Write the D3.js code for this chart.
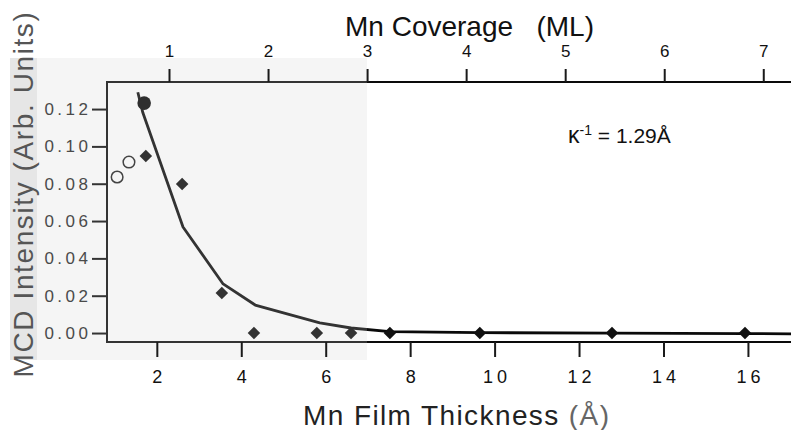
<!DOCTYPE html>
<html lang="en">
<head>
<meta charset="utf-8">
<title>MCD intensity vs Mn thickness</title>
<script src="https://d3js.org/d3.v7.min.js"></script>
<style>
  body { margin: 0; background: #fff; }
  text { font-family: "Liberation Sans", Arial, sans-serif; }
</style>
</head>
<body>
<script>
// data
var diamondT = [1.74, 2.60, 3.54, 4.30, 5.79, 6.60, 7.52, 9.65, 12.78, 15.93]
var diamondV = [0.0949, 0.0799, 0.0215, 0.0, 0.0, 0.0, 0.0, 0.0, 0.0, 0.0]
var filledT = [1.70]
var filledV = [0.1232]
var openT = [1.06, 1.34]
var openV = [0.0836, 0.0916]
var fitT = [1.55, 1.67, 2.62, 3.57, 4.33, 5.86, 6.60, 7.52, 9.65, 12.78, 15.93, 17.02]
var fitV = [0.129, 0.118, 0.0568, 0.0263, 0.0150, 0.0054, 0.0027, 0.0008, 0.0002, 0.0, -0.0003, -0.0004]
var xTicks = [2, 4, 6, 8, 10, 12, 14, 16]
var topTicks = [1, 2, 3, 4, 5, 6, 7]
var yTicks = [0, 0.02, 0.04, 0.06, 0.08, 0.10, 0.12]

var w = 791, h = 430
var pLeft = 107, pRight = 791, pTop = 82, pBottom = 342

var svg = d3.select("body").append("svg")
  .attr("width", w).attr("height", h)

var x = d3.scaleLinear().domain([0.82, 17.02]).range([pLeft, pRight])
var xTop = d3.scaleLinear().domain([0.374, 7.28]).range([pLeft, pRight])
var y = d3.scaleLinear().domain([-0.0048, 0.1345]).range([pBottom, pTop])

// the scan is greyer on the left, darker ink on the right
var grad = svg.append("defs").append("linearGradient")
  .attr("id", "ink").attr("gradientUnits", "userSpaceOnUse")
  .attr("x1", 0).attr("x2", w).attr("y1", 0).attr("y2", 0)
grad.append("stop").attr("offset", 367 / w).attr("stop-color", "#333")
grad.append("stop").attr("offset", 367 / w).attr("stop-color", "#0a0a0a")

svg.append("rect").attr("x", 10).attr("y", 58).attr("width", 357).attr("height", 302)
  .attr("fill", "#f5f5f5")
svg.append("rect").attr("x", 10).attr("y", 58).attr("width", 27).attr("height", 302)
  .attr("fill", "#e6e6e6")

// frame lines
svg.append("line").attr("x1", pLeft).attr("x2", pLeft).attr("y1", pTop).attr("y2", pBottom)
  .attr("stroke", "#333").attr("stroke-width", 2)
svg.append("line").attr("x1", pLeft - 1).attr("x2", pRight).attr("y1", pTop).attr("y2", pTop)
  .attr("stroke", "url(#ink)").attr("stroke-width", 2)
svg.append("line").attr("x1", pLeft - 1).attr("x2", pRight).attr("y1", pBottom).attr("y2", pBottom)
  .attr("stroke", "url(#ink)").attr("stroke-width", 2.2)

// bottom axis
var gx = svg.append("g").attr("transform", "translate(0," + pBottom + ")")
  .call(d3.axisBottom(x).tickValues(xTicks).tickSize(15).tickPadding(13).tickFormat(d3.format("d")))
gx.select(".domain").remove()
gx.selectAll("line").attr("stroke", "#1a1a1a").attr("stroke-width", 2)
gx.selectAll("text").attr("font-size", 18).attr("fill", "#111")
  .attr("letter-spacing", 4).attr("dx", 2)
  .style("font-family", "'Liberation Sans', Arial, sans-serif")

// top axis
var gt = svg.append("g").attr("transform", "translate(0," + pTop + ")")
  .call(d3.axisTop(xTop).tickValues(topTicks).tickSize(13).tickPadding(12).tickFormat(d3.format("d")))
gt.select(".domain").remove()
gt.selectAll("line").attr("stroke", "#1a1a1a").attr("stroke-width", 2)
gt.selectAll("text").attr("font-size", 17).attr("fill", "#111")
  .style("font-family", "'Liberation Sans', Arial, sans-serif")

// left axis
var gy = svg.append("g").attr("transform", "translate(" + pLeft + ",0)")
  .call(d3.axisLeft(y).tickValues(yTicks).tickSize(15).tickPadding(4).tickFormat(d3.format(".2f")))
gy.select(".domain").remove()
gy.selectAll("line").attr("stroke", "#333").attr("stroke-width", 2)
gy.selectAll("text").attr("font-size", 17).attr("fill", "#4a4a4a")
  .attr("letter-spacing", 3.5).attr("dx", 3.5)
  .style("font-family", "'Liberation Sans', Arial, sans-serif")

// fit curve
var fitData = d3.zip(fitT, fitV)
svg.append("path").datum(fitData)
  .attr("d", d3.line().x(function(d){ return x(d[0]) }).y(function(d){ return y(d[1]) }))
  .attr("fill", "none").attr("stroke", "url(#ink)").attr("stroke-width", 2.8)
  .attr("stroke-linejoin", "round")

// filled diamonds
svg.selectAll("path.dia")
  .data(d3.zip(diamondT, diamondV))
  .enter().append("path").attr("class", "dia")
  .attr("d", d3.symbol().type(d3.symbolDiamond2).size(100))
  .attr("transform", function(d){ return "translate(" + x(d[0]) + "," + y(d[1]) + ")" })
  .attr("fill", function(d){ return x(d[0]) > 367 ? "#111" : "#333" })

// filled circle
svg.selectAll("circle.filled")
  .data(d3.zip(filledT, filledV))
  .enter().append("circle").attr("class", "filled")
  .attr("cx", function(d){ return x(d[0]) }).attr("cy", function(d){ return y(d[1]) })
  .attr("r", 6.8).attr("fill", "#2e2e2e")

// open circles
svg.selectAll("circle.open")
  .data(d3.zip(openT, openV))
  .enter().append("circle").attr("class", "open")
  .attr("cx", function(d){ return x(d[0]) }).attr("cy", function(d){ return y(d[1]) })
  .attr("r", 5.8).attr("fill", "none").attr("stroke", "#444").attr("stroke-width", 1.5)

// titles
svg.append("text").attr("x", 345).attr("y", 36)
  .attr("font-size", 28).attr("fill", "#111")
  .style("white-space", "pre")
  .text("Mn Coverage   (ML)")

var xl = svg.append("text").attr("x", 303).attr("y", 425)
  .attr("font-size", 28).attr("fill", "#222").attr("letter-spacing", 1.4)
  .style("white-space", "pre")
xl.append("tspan").text("Mn Film Thickness ")
xl.append("tspan").attr("fill", "#666").text("(Å)")

svg.append("text")
  .attr("transform", "translate(33,194) rotate(-90)")
  .attr("text-anchor", "middle")
  .attr("font-size", 28).attr("fill", "#555").attr("letter-spacing", 1.6)
  .style("white-space", "pre")
  .text("MCD Intensity (Arb. Units)")

// annotation
var ann = svg.append("text").attr("x", 568).attr("y", 143)
  .attr("font-size", 21).attr("fill", "#111")
ann.append("tspan").attr("font-size", 23).text("κ")
ann.append("tspan").attr("dy", -8).attr("font-size", 14).text("-1")
ann.append("tspan").attr("dy", 8).style("white-space", "pre").text(" = 1.29Å")
</script>
</body>
</html>
